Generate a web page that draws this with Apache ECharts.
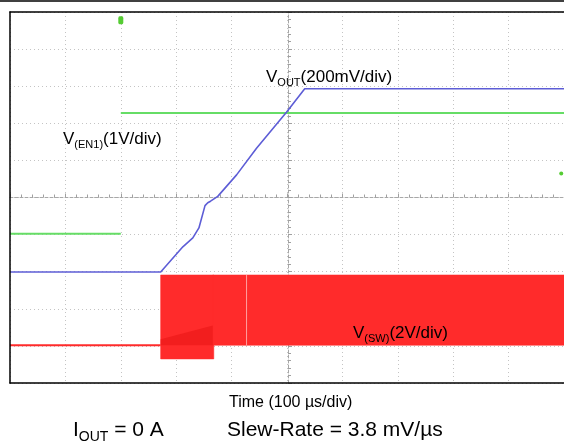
<!DOCTYPE html>
<html><head><meta charset="utf-8">
<script src="https://cdn.jsdelivr.net/npm/echarts@6/dist/echarts.min.js"></script>
<style>html,body{margin:0;padding:0;background:#fff;overflow:hidden}#c{width:564px;height:441px}</style>
</head><body><div id="c"></div>
<script>
// Time in µs (100 µs/div), amplitudes in screen divisions (0 = bottom graticule line)
const timeTicks = [0,100,200,300,400,500,600,700,800,900,1000];
// V(EN1): low level, then high level after the enable step
const enLowT = [0, 200];
const enLowV = [4.02, 4.02];
const enHighT = [200, 1000];
const enHighV = [7.28, 7.28];
// V(OUT) soft-start ramp
const voutT = [0, 272, 312, 330, 341, 352, 357, 362, 375, 409, 445, 499, 532, 1000];
const voutV = [2.99, 2.99, 3.67, 3.91, 4.18, 4.78, 4.86, 4.90, 5.03, 5.61, 6.33, 7.30, 7.93, 7.93];
// V(SW): idle baseline, then switching envelope segments [t0, t1, low, high]
const swIdleT = [0, 272];
const swIdleV = [1.02, 1.02];
const swBandT0 = [272, 366];
const swBandT1 = [366, 1000];
const swBandLow = [0.65, 1.02];
const swBandHigh = [2.91, 2.91];
const swRampPoly = [[272, 1.02], [366, 1.02], [366, 1.55], [272, 1.18]];
const swGlitchT = [427];

const chart = echarts.init(document.getElementById('c'), null, {renderer: 'canvas'});
const GREEN = '#66dd66', BLUE = '#5d5dd6', RED = '#ff2b2b';
const zip = (a, b) => a.map((v, i) => [v, b[i]]);

const centerAxisCommon = {
  type: 'value', show: true, z: 0,
  axisLine: {show: true, onZero: false, lineStyle: {color: '#a8a8a8', width: 1, type: [3, 2]}},
  axisTick: {show: true, inside: true, length: 4, lineStyle: {color: '#a0a0a0'}},
  minorTick: {show: true, splitNumber: 5, length: 3, lineStyle: {color: '#a0a0a0'}},
  axisLabel: {show: false}, splitLine: {show: false}
};
const frameAxis = {
  type: 'value', show: true,
  axisLine: {show: true, onZero: false, lineStyle: {color: '#000', width: 1.5}},
  axisTick: {show: false}, axisLabel: {show: false}, splitLine: {show: false}
};

chart.setOption({
  animation: false,
  backgroundColor: '#fff',
  grid: {left: 10, top: 12, width: 556, height: 371, show: false},
  xAxis: [
    {type: 'value', min: timeTicks[0], max: timeTicks[timeTicks.length - 1], interval: 100, position: 'bottom',
     axisLine: {show: false}, axisTick: {show: false}, axisLabel: {show: false},
     splitLine: {show: true, lineStyle: {color: '#c4c4c4', type: [1, 3], width: 1}}, z: 0},
    Object.assign({}, centerAxisCommon, {position: 'bottom', offset: -185.5, min: 0, max: 1000, interval: 100}),
    Object.assign({}, frameAxis, {position: 'top', min: 0, max: 1000, z: 10}),
    Object.assign({}, frameAxis, {position: 'bottom', min: 0, max: 1000, z: 10})
  ],
  yAxis: [
    {type: 'value', min: 0, max: 10, interval: 1, position: 'left',
     axisLine: {show: false}, axisTick: {show: false}, axisLabel: {show: false},
     splitLine: {show: true, lineStyle: {color: '#c4c4c4', type: [1, 3], width: 1}}, z: 0},
    Object.assign({}, centerAxisCommon, {position: 'left', offset: -278, min: 0, max: 10, interval: 1}),
    Object.assign({}, frameAxis, {position: 'left', min: 0, max: 10, z: 10})
  ],
  series: [
    {type: 'custom', name: 'SW band', xAxisIndex: 0, yAxisIndex: 0,
     data: swBandT0.map((t, i) => [t, swBandT1[i], swBandLow[i], swBandHigh[i]]),
     encode: {x: [0, 1], y: [2, 3]},
     renderItem: function (params, api) {
       const p0 = api.coord([api.value(0), api.value(3)]);
       const p1 = api.coord([api.value(1), api.value(2)]);
       return {type: 'rect', shape: {x: p0[0], y: p0[1], width: p1[0] - p0[0] + 1, height: p1[1] - p0[1]},
               style: {fill: RED, stroke: RED, lineWidth: 0.6}};
     }, z: 2},
    {type: 'custom', name: 'SW ramp', data: [0],
     renderItem: function (params, api) {
       return {type: 'polygon', shape: {points: swRampPoly.map(p => api.coord(p))},
               style: {fill: '#f21e1e'}};
     }, z: 3},
    {type: 'custom', name: 'SW glitch', data: swGlitchT.map(t => [t]),
     renderItem: function (params, api) {
       const a = api.coord([api.value(0), swBandHigh[1]]);
       const b = api.coord([api.value(0), swBandLow[1]]);
       return {type: 'line', shape: {x1: a[0], y1: a[1], x2: b[0], y2: b[1]},
               style: {stroke: '#ffa0a0', lineWidth: 1}};
     }, z: 3},
    {type: 'line', name: 'SW idle', data: zip(swIdleT, swIdleV), symbol: 'none',
     lineStyle: {color: RED, width: 2}, z: 4},
    {type: 'line', name: 'EN1', data: zip(enLowT, enLowV).concat([[200, null]], zip(enHighT, enHighV)),
     symbol: 'none', connectNulls: false, lineStyle: {color: GREEN, width: 2}, z: 4,
     markPoint: {symbol: 'roundRect', symbolSize: [5, 8], silent: true, label: {show: false},
       itemStyle: {color: '#55cc33'},
       data: [{coord: [200, 9.78]}, {coord: [995, 5.65], symbolSize: [4, 4], symbol: 'circle'}]}},
    {type: 'line', name: 'VOUT', data: zip(voutT, voutV), symbol: 'none',
     lineStyle: {color: BLUE, width: 1.6}, z: 5}
  ],
  graphic: [
    {type: 'line', shape: {x1: 0, y1: 1, x2: 564, y2: 1}, style: {stroke: '#000', lineWidth: 1.5}, z: 100},
    {type: 'text', left: 63, top: 131, z: 100, style: {
      text: '{m|V}{s|(EN1)}{m|(1V/div)}', fill: '#000',
      rich: {m: {fontSize: 17, fontFamily: 'Liberation Sans', verticalAlign: 'top', lineHeight: 17},
             s: {fontSize: 11, fontFamily: 'Liberation Sans', verticalAlign: 'top', lineHeight: 11, padding: [8, 0, 0, 0]}}}},
    {type: 'text', left: 266, top: 69, z: 100, style: {
      text: '{m|V}{s|OUT}{m|(200mV/div)}', fill: '#000',
      rich: {m: {fontSize: 17, fontFamily: 'Liberation Sans', verticalAlign: 'top', lineHeight: 17},
             s: {fontSize: 11, fontFamily: 'Liberation Sans', verticalAlign: 'top', lineHeight: 11, padding: [8, 0, 0, 0]}}}},
    {type: 'text', left: 353, top: 325, z: 100, style: {
      text: '{m|V}{s|(SW)}{m|(2V/div)}', fill: '#000',
      rich: {m: {fontSize: 17, fontFamily: 'Liberation Sans', verticalAlign: 'top', lineHeight: 17},
             s: {fontSize: 11, fontFamily: 'Liberation Sans', verticalAlign: 'top', lineHeight: 11, padding: [8, 0, 0, 0]}}}},
    {type: 'text', left: 229, top: 395, z: 100, style: {
      text: 'Time (100 µs/div)', fill: '#000', font: '16px "Liberation Sans"'}},
    {type: 'text', left: 73, top: 420, z: 100, style: {
      text: '{m|I}{s|OUT}{m| = 0 A}', fill: '#000',
      rich: {m: {fontSize: 21, fontFamily: 'Liberation Sans', verticalAlign: 'top', lineHeight: 21},
             s: {fontSize: 14, fontFamily: 'Liberation Sans', verticalAlign: 'top', lineHeight: 14, padding: [10, 0, 0, 0]}}}},
    {type: 'text', left: 227, top: 420, z: 100, style: {
      text: 'Slew-Rate = 3.8 mV/µs', fill: '#000', font: '21px "Liberation Sans"'}}
  ]
});
</script></body></html>
